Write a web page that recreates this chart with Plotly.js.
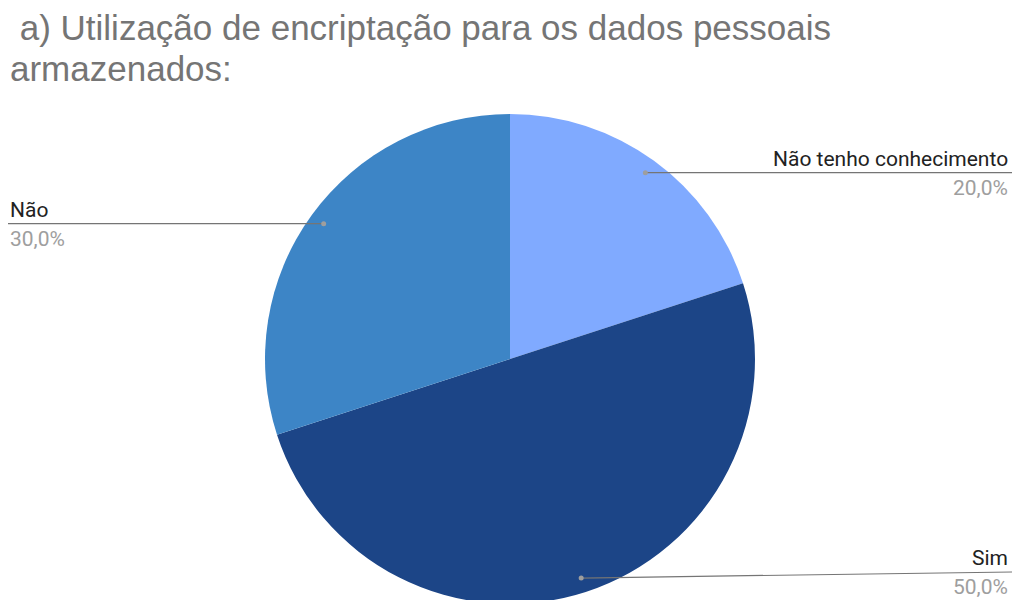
<!DOCTYPE html>
<html>
<head>
<meta charset="utf-8">
<script src="https://cdn.plot.ly/plotly-3.0.1.min.js"></script>
<style>
html,body{margin:0;padding:0;overflow:hidden;background:#fff;}
#chart{width:1014px;height:604px;}
</style>
</head>
<body>
<div id="chart"></div>
<script>
// Data
const categories = ["Não tenho conhecimento", "Sim", "Não"];
const values = [20, 50, 30];
const percentLabels = ["20,0%", "50,0%", "30,0%"];
const colors = ["#80aaff", "#1c4587", "#3d85c6"];
const titleLines = ["\u00A0a) Utilização de encriptação para os dados pessoais", "armazenados:"];

// Layout geometry (pixels)
const W = 1014, H = 604, VIS = 600;
const M = {l: 0, r: 0, t: 114, b: 0};
const cx = 510, R = 245;
const pw = W - M.l - M.r, ph = H - M.t - M.b;
const px2x = x => (x - M.l) / pw;
const py2y = y => (H - M.b - y) / ph;

const total = values.reduce((a, b) => a + b, 0);
const cy = M.t + ph / 2;

const shapes = [], annotations = [];

titleLines.forEach((t, i) => {
  annotations.push({xref: "paper", yref: "paper", x: px2x(8), y: py2y(28 + 40 * i),
    xanchor: "left", yanchor: "middle", showarrow: false, text: t,
    font: {family: "Liberation Sans, Arial, sans-serif", size: 35, color: "#757575"}});
});

let cum = 0;
values.forEach((v, i) => {
  const mid = (cum + v / 2) / total * 2 * Math.PI;
  cum += v;
  const dx = cx + 0.94 * R * Math.sin(mid);
  const dy = cy - 0.94 * R * Math.cos(mid);
  const ly = Math.min(dy, VIS - 28);
  const right = dx > cx;
  const ex = right ? W - 2 : 8;
  shapes.push({type: "line", xref: "paper", yref: "paper",
    x0: px2x(dx), y0: py2y(dy), x1: px2x(ex), y1: py2y(ly),
    line: {color: "#757575", width: 1.2}});
  shapes.push({type: "circle", xref: "paper", yref: "paper",
    x0: px2x(dx - 2.5), x1: px2x(dx + 2.5), y0: py2y(dy - 2.5), y1: py2y(dy + 2.5),
    fillcolor: "#9e9e9e", line: {width: 0}});
  const tx = right ? W - 4 : 8;
  annotations.push({xref: "paper", yref: "paper", x: px2x(tx), y: py2y(ly - 14),
    xanchor: right ? "right" : "left", yanchor: "middle", showarrow: false,
    text: categories[i], font: {family: "Roboto, sans-serif", size: 21, color: "#222222"}});
  annotations.push({xref: "paper", yref: "paper", x: px2x(tx), y: py2y(ly + 15),
    xanchor: right ? "right" : "left", yanchor: "middle", showarrow: false,
    text: percentLabels[i], font: {family: "Roboto, sans-serif", size: 21, color: "#9e9e9e"}});
});

const data = [{
  type: "pie",
  labels: categories,
  values: values,
  sort: false,
  direction: "clockwise",
  rotation: 0,
  marker: {colors: colors, line: {width: 0}},
  textinfo: "none",
  hoverinfo: "label+percent",
  domain: {x: [px2x(cx - R), px2x(cx + R)], y: [0, 1]}
}];

const layout = {
  width: W, height: H,
  margin: M,
  showlegend: false,
  paper_bgcolor: "#ffffff",
  shapes: shapes,
  annotations: annotations
};

Plotly.newPlot("chart", data, layout, {displayModeBar: false, staticPlot: true});
</script>
</body>
</html>
